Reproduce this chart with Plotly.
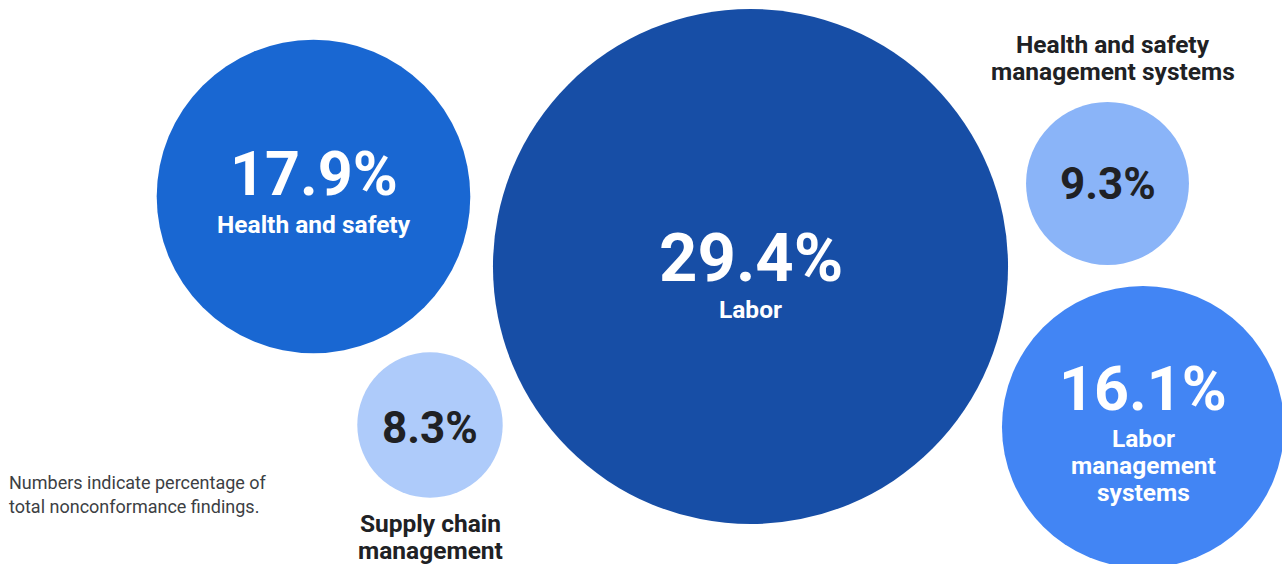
import plotly.graph_objects as go

# ---- data ----
categories = ["Health and safety", "Labor", "Health and safety management systems",
              "Labor management systems", "Supply chain management"]
values = [17.9, 29.4, 9.3, 16.1, 8.3]

# ---- layout / style (pixel space of the 1282x564 canvas) ----
center_x = [313.5, 750.5, 1107.5, 1143, 430]
center_y = [196.5, 266.5, 183.5, 427, 425]
value_y = [174, 258, 184, 389, 428]
value_size = [61, 67, 44, 61, 44]
colors = ["#1967D2", "#174EA6", "#8AB4F8", "#4285F4", "#AECBFA"]
text_colors = ["#FFFFFF", "#FFFFFF", "#202124", "#FFFFFF", "#202124"]
# label line breaks and the y of each line
label_lines = [["Health and safety"], ["Labor"], ["Health and safety", "management systems"],
               ["Labor", "management", "systems"], ["Supply chain", "management"]]
label_x = [313.5, 750.5, 1112.5, 1143, 430]
label_y = [[224], [309], [44, 71], [438, 465, 492], [523, 550]]
label_colors = ["#FFFFFF", "#FFFFFF", "#202124", "#FFFFFF", "#202124"]
footnote = ["Numbers indicate percentage of", "total nonconformance findings."]
footnote_y = [482, 506]
px_per_pct = 8.76  # radius in px per percentage point
W, H = 1282, 564
FONT = "Roboto"
LABEL_SIZE = 24.5

fig = go.Figure()
fig.add_trace(go.Scatter(
    x=center_x, y=center_y, mode="markers",
    marker=dict(size=[2 * v * px_per_pct for v in values], sizemode="diameter",
                color=colors, opacity=1, line=dict(width=0)),
    hoverinfo="skip", cliponaxis=False, showlegend=False,
))

annotations = []
for i, v in enumerate(values):
    annotations.append(dict(
        x=center_x[i], y=value_y[i], text=f"<b>{v}%</b>", showarrow=False,
        xanchor="center", yanchor="middle",
        font=dict(family=FONT, size=value_size[i], color=text_colors[i])))
    for line, ly in zip(label_lines[i], label_y[i]):
        annotations.append(dict(
            x=label_x[i], y=ly, text=f"<b>{line}</b>", showarrow=False,
            xanchor="center", yanchor="middle",
            font=dict(family=FONT, size=LABEL_SIZE, color=label_colors[i])))

for line, ly in zip(footnote, footnote_y):
    annotations.append(dict(x=7, y=ly, text=line, showarrow=False, xanchor="left",
                            yanchor="middle", font=dict(family=FONT, size=18, color="#3C4043")))

fig.update_layout(
    width=W, height=H, margin=dict(l=0, r=0, t=0, b=0),
    paper_bgcolor="white", plot_bgcolor="white",
    xaxis=dict(range=[0, W], visible=False, fixedrange=True),
    yaxis=dict(range=[H, 0], visible=False, fixedrange=True),
    annotations=annotations, showlegend=False,
)
fig.write_html("out.html", config={"displayModeBar": False})
